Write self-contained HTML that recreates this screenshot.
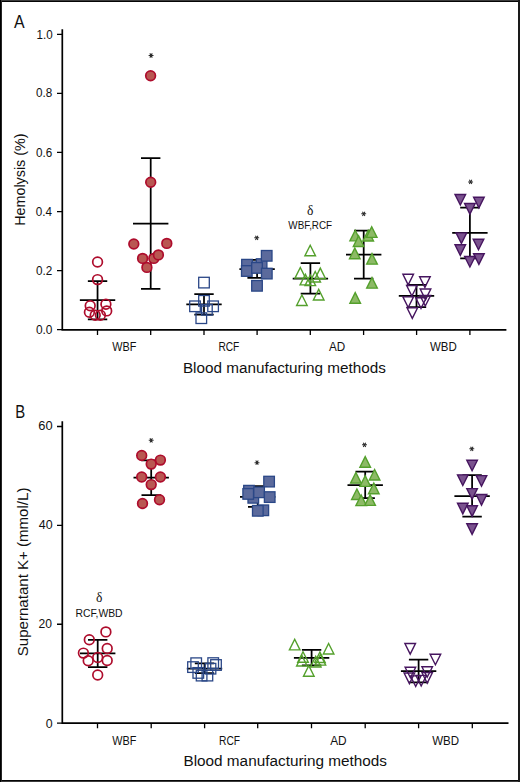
<!DOCTYPE html>
<html><head><meta charset="utf-8"><title>Figure</title><style>
html,body{margin:0;padding:0;background:#fff;}
body{width:520px;height:782px;overflow:hidden;}
svg{display:block;}
text{font-family:"Liberation Sans",sans-serif;fill:#111;}
.tk{font-size:12.4px;}
.cat{font-size:12.4px;}
.ax{font-size:15.5px;}
.pl{font-size:18.4px;}
.sig{font-size:11.4px;}
.dl{font-family:"Liberation Serif",serif;font-size:13.6px;}
</style></head>
<body><svg width="520" height="782" viewBox="0 0 520 782">
<g shape-rendering="crispEdges"><rect x="0" y="0" width="520" height="1" fill="#3c3c3c"/><rect x="0" y="1" width="520" height="1" fill="#050505"/><rect x="0" y="780" width="520" height="1" fill="#050505"/><rect x="0" y="781" width="520" height="1" fill="#3c3c3c"/><rect x="0" y="0" width="1" height="782" fill="#000"/><rect x="1" y="1" width="1" height="780" fill="#262626"/><rect x="518" y="0" width="2" height="782" fill="#1a1a1a"/></g>
<path d="M62.3 29.3V330.6M61.5 329.8H506.4" stroke="#000" stroke-width="1.7" fill="none"/>
<path d="M57 329.70H62M57 270.62H62M57 211.54H62M57 152.46H62M57 93.38H62M57 34.30H62M97.50 329.8V335M150.70 329.8V335M204.00 329.8V335M257.10 329.8V335M310.30 329.8V335M363.60 329.8V335M416.60 329.8V335M469.90 329.8V335" stroke="#000" stroke-width="1.3" fill="none"/>
<path d="M97.55 281.20V319.30M87.85 281.20h19.4M87.85 319.30h19.4M79.85 300.10h35.4" stroke="#000" stroke-width="1.75" fill="none"/>
<circle cx="97.55" cy="262.00" r="4.85" fill="none" stroke="#ae0c2c" stroke-width="1.7"/>
<circle cx="97.55" cy="279.60" r="4.85" fill="none" stroke="#ae0c2c" stroke-width="1.7"/>
<circle cx="90.20" cy="305.70" r="4.85" fill="none" stroke="#ae0c2c" stroke-width="1.7"/>
<circle cx="105.90" cy="304.20" r="4.85" fill="none" stroke="#ae0c2c" stroke-width="1.7"/>
<circle cx="89.40" cy="312.20" r="4.85" fill="none" stroke="#ae0c2c" stroke-width="1.7"/>
<circle cx="106.70" cy="310.90" r="4.85" fill="none" stroke="#ae0c2c" stroke-width="1.7"/>
<circle cx="95.20" cy="315.30" r="4.85" fill="none" stroke="#ae0c2c" stroke-width="1.7"/>
<circle cx="100.40" cy="315.30" r="4.85" fill="none" stroke="#ae0c2c" stroke-width="1.7"/>
<path d="M150.70 158.05V288.90M141.00 158.05h19.4M141.00 288.90h19.4M133.00 223.50h35.4" stroke="#000" stroke-width="1.75" fill="none"/>
<circle cx="150.60" cy="75.80" r="4.85" fill="#b95752" stroke="#ae0c2c" stroke-width="1.7"/>
<circle cx="150.70" cy="182.20" r="4.85" fill="#b95752" stroke="#ae0c2c" stroke-width="1.7"/>
<circle cx="133.80" cy="244.00" r="4.85" fill="#b95752" stroke="#ae0c2c" stroke-width="1.7"/>
<circle cx="166.80" cy="243.40" r="4.85" fill="#b95752" stroke="#ae0c2c" stroke-width="1.7"/>
<circle cx="142.60" cy="258.40" r="4.85" fill="#b95752" stroke="#ae0c2c" stroke-width="1.7"/>
<circle cx="153.80" cy="258.40" r="4.85" fill="#b95752" stroke="#ae0c2c" stroke-width="1.7"/>
<circle cx="158.40" cy="254.90" r="4.85" fill="#b95752" stroke="#ae0c2c" stroke-width="1.7"/>
<circle cx="146.90" cy="267.40" r="4.85" fill="#b95752" stroke="#ae0c2c" stroke-width="1.7"/>
<path d="M148.62 55.50L153.52 55.50M149.84 53.38L152.29 57.62M152.29 53.38L149.84 57.62" stroke="#2a2a2a" stroke-width="1.05" fill="none"/>
<path d="M204.00 294.00V314.60M194.30 294.00h19.4M194.30 314.60h19.4M186.30 304.40h35.4" stroke="#000" stroke-width="1.75" fill="none"/>
<rect x="198.70" y="277.30" width="10.6" height="10.6" fill="none" stroke="#2a4787" stroke-width="1.3"/>
<rect x="198.70" y="295.50" width="10.6" height="10.6" fill="none" stroke="#2a4787" stroke-width="1.3"/>
<rect x="189.70" y="301.00" width="10.6" height="10.6" fill="none" stroke="#2a4787" stroke-width="1.3"/>
<rect x="207.80" y="301.00" width="10.6" height="10.6" fill="none" stroke="#2a4787" stroke-width="1.3"/>
<rect x="201.60" y="304.50" width="10.6" height="10.6" fill="none" stroke="#2a4787" stroke-width="1.3"/>
<rect x="196.00" y="312.90" width="10.6" height="10.6" fill="none" stroke="#2a4787" stroke-width="1.3"/>
<path d="M257.10 259.80V277.90M247.40 259.80h19.4M247.40 277.90h19.4M239.40 269.00h35.4" stroke="#000" stroke-width="1.75" fill="none"/>
<rect x="246.70" y="262.00" width="10.6" height="10.6" fill="#5b6a9c" stroke="#2a4787" stroke-width="1.3"/>
<rect x="256.30" y="258.80" width="10.6" height="10.6" fill="#5b6a9c" stroke="#2a4787" stroke-width="1.3"/>
<rect x="241.70" y="259.40" width="10.6" height="10.6" fill="#5b6a9c" stroke="#2a4787" stroke-width="1.3"/>
<rect x="261.40" y="250.50" width="10.6" height="10.6" fill="#5b6a9c" stroke="#2a4787" stroke-width="1.3"/>
<rect x="241.50" y="265.70" width="10.6" height="10.6" fill="#5b6a9c" stroke="#2a4787" stroke-width="1.3"/>
<rect x="251.70" y="262.60" width="10.6" height="10.6" fill="#5b6a9c" stroke="#2a4787" stroke-width="1.3"/>
<rect x="261.50" y="268.30" width="10.6" height="10.6" fill="#5b6a9c" stroke="#2a4787" stroke-width="1.3"/>
<rect x="251.70" y="280.50" width="10.6" height="10.6" fill="#5b6a9c" stroke="#2a4787" stroke-width="1.3"/>
<path d="M254.25 237.80L259.15 237.80M255.47 235.68L257.93 239.92M257.93 235.68L255.47 239.92" stroke="#2a2a2a" stroke-width="1.05" fill="none"/>
<path d="M310.40 263.20V293.50M300.70 263.20h19.4M300.70 293.50h19.4M292.70 278.70h35.4" stroke="#000" stroke-width="1.75" fill="none"/>
<path d="M310.20 245.20L315.50 255.80L304.90 255.80Z" fill="none" stroke="#54a02c" stroke-width="1.4"/>
<path d="M300.30 267.50L305.60 278.10L295.00 278.10Z" fill="none" stroke="#54a02c" stroke-width="1.4"/>
<path d="M320.30 268.10L325.60 278.70L315.00 278.70Z" fill="none" stroke="#54a02c" stroke-width="1.4"/>
<path d="M305.40 274.25L310.70 284.85L300.10 284.85Z" fill="none" stroke="#54a02c" stroke-width="1.4"/>
<path d="M315.20 271.45L320.50 282.05L309.90 282.05Z" fill="none" stroke="#54a02c" stroke-width="1.4"/>
<path d="M310.30 275.00L315.60 285.60L305.00 285.60Z" fill="none" stroke="#54a02c" stroke-width="1.4"/>
<path d="M318.70 289.35L324.00 299.95L313.40 299.95Z" fill="none" stroke="#54a02c" stroke-width="1.4"/>
<path d="M301.90 294.95L307.20 305.55L296.60 305.55Z" fill="none" stroke="#54a02c" stroke-width="1.4"/>
<text x="310.1" y="214.6" class="dl" text-anchor="middle">&#948;</text>
<path d="M363.70 230.60V278.50M354.00 230.60h19.4M354.00 278.50h19.4M346.00 254.60h35.4" stroke="#000" stroke-width="1.75" fill="none"/>
<path d="M368.20 230.40L373.50 241.00L362.90 241.00Z" fill="#8dba66" stroke="#54a02c" stroke-width="1.4"/>
<path d="M371.70 226.80L377.00 237.40L366.40 237.40Z" fill="#8dba66" stroke="#54a02c" stroke-width="1.4"/>
<path d="M355.20 230.25L360.50 240.85L349.90 240.85Z" fill="#8dba66" stroke="#54a02c" stroke-width="1.4"/>
<path d="M358.60 235.90L363.90 246.50L353.30 246.50Z" fill="#8dba66" stroke="#54a02c" stroke-width="1.4"/>
<path d="M354.80 248.10L360.10 258.70L349.50 258.70Z" fill="#8dba66" stroke="#54a02c" stroke-width="1.4"/>
<path d="M372.00 253.55L377.30 264.15L366.70 264.15Z" fill="#8dba66" stroke="#54a02c" stroke-width="1.4"/>
<path d="M372.00 277.55L377.30 288.15L366.70 288.15Z" fill="#8dba66" stroke="#54a02c" stroke-width="1.4"/>
<path d="M355.20 292.60L360.50 303.20L349.90 303.20Z" fill="#8dba66" stroke="#54a02c" stroke-width="1.4"/>
<path d="M361.25 213.80L366.15 213.80M362.47 211.68L364.93 215.92M364.93 211.68L362.47 215.92" stroke="#2a2a2a" stroke-width="1.05" fill="none"/>
<path d="M416.50 284.90V307.20M406.80 284.90h19.4M406.80 307.20h19.4M398.80 295.90h35.4" stroke="#000" stroke-width="1.75" fill="none"/>
<path d="M408.20 284.90L413.50 274.30L402.90 274.30Z" fill="none" stroke="#46155f" stroke-width="1.4"/>
<path d="M424.90 287.35L430.20 276.75L419.60 276.75Z" fill="none" stroke="#46155f" stroke-width="1.4"/>
<path d="M411.90 296.05L417.20 285.45L406.60 285.45Z" fill="none" stroke="#46155f" stroke-width="1.4"/>
<path d="M425.50 299.65L430.80 289.05L420.20 289.05Z" fill="none" stroke="#46155f" stroke-width="1.4"/>
<path d="M408.20 307.45L413.50 296.85L402.90 296.85Z" fill="none" stroke="#46155f" stroke-width="1.4"/>
<path d="M425.30 306.05L430.60 295.45L420.00 295.45Z" fill="none" stroke="#46155f" stroke-width="1.4"/>
<path d="M421.00 308.35L426.30 297.75L415.70 297.75Z" fill="none" stroke="#46155f" stroke-width="1.4"/>
<path d="M412.30 318.40L417.60 307.80L407.00 307.80Z" fill="none" stroke="#46155f" stroke-width="1.4"/>
<path d="M469.90 207.50V258.30M460.20 207.50h19.4M460.20 258.30h19.4M452.20 232.90h35.4" stroke="#000" stroke-width="1.75" fill="none"/>
<path d="M460.30 205.05L465.60 194.45L455.00 194.45Z" fill="#7a528e" stroke="#46155f" stroke-width="1.4"/>
<path d="M478.90 207.90L484.20 197.30L473.60 197.30Z" fill="#7a528e" stroke="#46155f" stroke-width="1.4"/>
<path d="M469.90 214.10L475.20 203.50L464.60 203.50Z" fill="#7a528e" stroke="#46155f" stroke-width="1.4"/>
<path d="M461.40 243.50L466.70 232.90L456.10 232.90Z" fill="#7a528e" stroke="#46155f" stroke-width="1.4"/>
<path d="M478.50 249.80L483.80 239.20L473.20 239.20Z" fill="#7a528e" stroke="#46155f" stroke-width="1.4"/>
<path d="M460.30 255.40L465.60 244.80L455.00 244.80Z" fill="#7a528e" stroke="#46155f" stroke-width="1.4"/>
<path d="M478.90 264.40L484.20 253.80L473.60 253.80Z" fill="#7a528e" stroke="#46155f" stroke-width="1.4"/>
<path d="M469.90 267.05L475.20 256.45L464.60 256.45Z" fill="#7a528e" stroke="#46155f" stroke-width="1.4"/>
<path d="M468.15 181.90L473.05 181.90M469.38 179.78L471.83 184.02M471.83 179.78L469.38 184.02" stroke="#2a2a2a" stroke-width="1.05" fill="none"/>
<path d="M62.3 421.2V723.9M61.5 723.1H508.5" stroke="#000" stroke-width="1.7" fill="none"/>
<path d="M57 723.10H62M57 624.23H62M57 525.36H62M57 426.49H62M97.50 723.1V728.3M151.20 723.1V728.3M204.60 723.1V728.3M257.70 723.1V728.3M311.50 723.1V728.3M365.20 723.1V728.3M418.60 723.1V728.3M472.30 723.1V728.3" stroke="#000" stroke-width="1.3" fill="none"/>
<path d="M97.70 639.90V667.00M88.00 639.90h19.4M88.00 667.00h19.4M80.00 653.30h35.4" stroke="#000" stroke-width="1.75" fill="none"/>
<circle cx="105.90" cy="631.90" r="4.85" fill="none" stroke="#ae0c2c" stroke-width="1.7"/>
<circle cx="89.30" cy="639.70" r="4.85" fill="none" stroke="#ae0c2c" stroke-width="1.7"/>
<circle cx="107.20" cy="648.50" r="4.85" fill="none" stroke="#ae0c2c" stroke-width="1.7"/>
<circle cx="83.40" cy="653.10" r="4.85" fill="none" stroke="#ae0c2c" stroke-width="1.7"/>
<circle cx="88.20" cy="660.70" r="4.85" fill="none" stroke="#ae0c2c" stroke-width="1.7"/>
<circle cx="97.70" cy="657.50" r="4.85" fill="none" stroke="#ae0c2c" stroke-width="1.7"/>
<circle cx="107.20" cy="660.50" r="4.85" fill="none" stroke="#ae0c2c" stroke-width="1.7"/>
<circle cx="97.70" cy="675.00" r="4.85" fill="none" stroke="#ae0c2c" stroke-width="1.7"/>
<text x="99.2" y="601.9" class="dl" text-anchor="middle">&#948;</text>
<path d="M151.20 460.40V495.00M141.50 460.40h19.4M141.50 495.00h19.4M133.50 477.70h35.4" stroke="#000" stroke-width="1.75" fill="none"/>
<circle cx="141.70" cy="455.50" r="4.85" fill="#b95752" stroke="#ae0c2c" stroke-width="1.7"/>
<circle cx="160.40" cy="460.10" r="4.85" fill="#b95752" stroke="#ae0c2c" stroke-width="1.7"/>
<circle cx="151.20" cy="464.10" r="4.85" fill="#b95752" stroke="#ae0c2c" stroke-width="1.7"/>
<circle cx="141.70" cy="477.00" r="4.85" fill="#b95752" stroke="#ae0c2c" stroke-width="1.7"/>
<circle cx="160.40" cy="477.00" r="4.85" fill="#b95752" stroke="#ae0c2c" stroke-width="1.7"/>
<circle cx="151.20" cy="484.60" r="4.85" fill="#b95752" stroke="#ae0c2c" stroke-width="1.7"/>
<circle cx="159.50" cy="499.80" r="4.85" fill="#b95752" stroke="#ae0c2c" stroke-width="1.7"/>
<circle cx="142.50" cy="503.50" r="4.85" fill="#b95752" stroke="#ae0c2c" stroke-width="1.7"/>
<path d="M148.75 440.30L153.65 440.30M149.97 438.18L152.42 442.42M152.42 438.18L149.97 442.42" stroke="#2a2a2a" stroke-width="1.05" fill="none"/>
<path d="M204.50 663.40V673.20M194.80 663.40h19.4M194.80 673.20h19.4M186.80 668.60h35.4" stroke="#000" stroke-width="1.75" fill="none"/>
<rect x="190.90" y="657.90" width="10.6" height="10.6" fill="none" stroke="#2a4787" stroke-width="1.3"/>
<rect x="207.90" y="657.80" width="10.6" height="10.6" fill="none" stroke="#2a4787" stroke-width="1.3"/>
<rect x="187.70" y="661.80" width="10.6" height="10.6" fill="none" stroke="#2a4787" stroke-width="1.3"/>
<rect x="210.70" y="659.70" width="10.6" height="10.6" fill="none" stroke="#2a4787" stroke-width="1.3"/>
<rect x="193.00" y="667.60" width="10.6" height="10.6" fill="none" stroke="#2a4787" stroke-width="1.3"/>
<rect x="196.30" y="670.30" width="10.6" height="10.6" fill="none" stroke="#2a4787" stroke-width="1.3"/>
<rect x="202.10" y="670.30" width="10.6" height="10.6" fill="none" stroke="#2a4787" stroke-width="1.3"/>
<rect x="205.20" y="663.40" width="10.6" height="10.6" fill="none" stroke="#2a4787" stroke-width="1.3"/>
<path d="M257.70 486.20V506.80M248.00 486.20h19.4M248.00 506.80h19.4M240.00 496.90h35.4" stroke="#000" stroke-width="1.75" fill="none"/>
<rect x="248.00" y="492.50" width="10.6" height="10.6" fill="#5b6a9c" stroke="#2a4787" stroke-width="1.3"/>
<rect x="263.80" y="476.30" width="10.6" height="10.6" fill="#5b6a9c" stroke="#2a4787" stroke-width="1.3"/>
<rect x="243.70" y="485.40" width="10.6" height="10.6" fill="#5b6a9c" stroke="#2a4787" stroke-width="1.3"/>
<rect x="242.90" y="488.60" width="10.6" height="10.6" fill="#5b6a9c" stroke="#2a4787" stroke-width="1.3"/>
<rect x="253.80" y="487.00" width="10.6" height="10.6" fill="#5b6a9c" stroke="#2a4787" stroke-width="1.3"/>
<rect x="264.40" y="491.80" width="10.6" height="10.6" fill="#5b6a9c" stroke="#2a4787" stroke-width="1.3"/>
<rect x="258.00" y="505.00" width="10.6" height="10.6" fill="#5b6a9c" stroke="#2a4787" stroke-width="1.3"/>
<rect x="252.50" y="505.50" width="10.6" height="10.6" fill="#5b6a9c" stroke="#2a4787" stroke-width="1.3"/>
<path d="M254.55 462.70L259.45 462.70M255.78 460.58L258.23 464.82M258.23 460.58L255.78 464.82" stroke="#2a2a2a" stroke-width="1.05" fill="none"/>
<path d="M311.60 649.80V665.40M301.90 649.80h19.4M301.90 665.40h19.4M293.90 657.80h35.4" stroke="#000" stroke-width="1.75" fill="none"/>
<path d="M294.70 639.25L300.00 649.85L289.40 649.85Z" fill="none" stroke="#54a02c" stroke-width="1.4"/>
<path d="M328.60 643.45L333.90 654.05L323.30 654.05Z" fill="none" stroke="#54a02c" stroke-width="1.4"/>
<path d="M303.00 651.70L308.30 662.30L297.70 662.30Z" fill="none" stroke="#54a02c" stroke-width="1.4"/>
<path d="M301.90 655.40L307.20 666.00L296.60 666.00Z" fill="none" stroke="#54a02c" stroke-width="1.4"/>
<path d="M319.90 651.95L325.20 662.55L314.60 662.55Z" fill="none" stroke="#54a02c" stroke-width="1.4"/>
<path d="M320.40 654.55L325.70 665.15L315.10 665.15Z" fill="none" stroke="#54a02c" stroke-width="1.4"/>
<path d="M315.70 656.40L321.00 667.00L310.40 667.00Z" fill="none" stroke="#54a02c" stroke-width="1.4"/>
<path d="M308.80 665.65L314.10 676.25L303.50 676.25Z" fill="none" stroke="#54a02c" stroke-width="1.4"/>
<path d="M365.20 471.50V498.20M355.50 471.50h19.4M355.50 498.20h19.4M347.50 485.00h35.4" stroke="#000" stroke-width="1.75" fill="none"/>
<path d="M365.20 456.65L370.50 467.25L359.90 467.25Z" fill="#8dba66" stroke="#54a02c" stroke-width="1.4"/>
<path d="M374.60 469.45L379.90 480.05L369.30 480.05Z" fill="#8dba66" stroke="#54a02c" stroke-width="1.4"/>
<path d="M355.90 472.55L361.20 483.15L350.60 483.15Z" fill="#8dba66" stroke="#54a02c" stroke-width="1.4"/>
<path d="M365.20 475.75L370.50 486.35L359.90 486.35Z" fill="#8dba66" stroke="#54a02c" stroke-width="1.4"/>
<path d="M373.80 483.15L379.10 493.75L368.50 493.75Z" fill="#8dba66" stroke="#54a02c" stroke-width="1.4"/>
<path d="M356.90 488.95L362.20 499.55L351.60 499.55Z" fill="#8dba66" stroke="#54a02c" stroke-width="1.4"/>
<path d="M361.20 495.00L366.50 505.60L355.90 505.60Z" fill="#8dba66" stroke="#54a02c" stroke-width="1.4"/>
<path d="M370.10 494.75L375.40 505.35L364.80 505.35Z" fill="#8dba66" stroke="#54a02c" stroke-width="1.4"/>
<path d="M362.05 444.80L366.95 444.80M363.27 442.68L365.73 446.92M365.73 442.68L363.27 446.92" stroke="#2a2a2a" stroke-width="1.05" fill="none"/>
<path d="M418.60 659.50V682.30M408.90 659.50h19.4M408.90 682.30h19.4M400.90 671.10h35.4" stroke="#000" stroke-width="1.75" fill="none"/>
<path d="M410.20 654.15L415.50 643.55L404.90 643.55Z" fill="none" stroke="#46155f" stroke-width="1.4"/>
<path d="M435.40 664.80L440.70 654.20L430.10 654.20Z" fill="none" stroke="#46155f" stroke-width="1.4"/>
<path d="M410.40 677.80L415.70 667.20L405.10 667.20Z" fill="none" stroke="#46155f" stroke-width="1.4"/>
<path d="M427.20 677.30L432.50 666.70L421.90 666.70Z" fill="none" stroke="#46155f" stroke-width="1.4"/>
<path d="M409.40 683.60L414.70 673.00L404.10 673.00Z" fill="none" stroke="#46155f" stroke-width="1.4"/>
<path d="M427.20 683.10L432.50 672.50L421.90 672.50Z" fill="none" stroke="#46155f" stroke-width="1.4"/>
<path d="M415.70 686.45L421.00 675.85L410.40 675.85Z" fill="none" stroke="#46155f" stroke-width="1.4"/>
<path d="M421.20 686.00L426.50 675.40L415.90 675.40Z" fill="none" stroke="#46155f" stroke-width="1.4"/>
<path d="M472.10 475.20V516.60M462.40 475.20h19.4M462.40 516.60h19.4M454.40 496.00h35.4" stroke="#000" stroke-width="1.75" fill="none"/>
<path d="M472.10 470.80L477.40 460.20L466.80 460.20Z" fill="#7a528e" stroke="#46155f" stroke-width="1.4"/>
<path d="M462.80 485.45L468.10 474.85L457.50 474.85Z" fill="#7a528e" stroke="#46155f" stroke-width="1.4"/>
<path d="M481.50 486.20L486.80 475.60L476.20 475.60Z" fill="#7a528e" stroke="#46155f" stroke-width="1.4"/>
<path d="M472.10 499.20L477.40 488.60L466.80 488.60Z" fill="#7a528e" stroke="#46155f" stroke-width="1.4"/>
<path d="M481.50 505.15L486.80 494.55L476.20 494.55Z" fill="#7a528e" stroke="#46155f" stroke-width="1.4"/>
<path d="M462.80 513.90L468.10 503.30L457.50 503.30Z" fill="#7a528e" stroke="#46155f" stroke-width="1.4"/>
<path d="M472.10 516.40L477.40 505.80L466.80 505.80Z" fill="#7a528e" stroke="#46155f" stroke-width="1.4"/>
<path d="M472.10 534.40L477.40 523.80L466.80 523.80Z" fill="#7a528e" stroke="#46155f" stroke-width="1.4"/>
<path d="M469.35 448.80L474.25 448.80M470.57 446.68L473.03 450.92M473.03 446.68L470.57 450.92" stroke="#2a2a2a" stroke-width="1.05" fill="none"/>
<text x="14.01" y="28.00" class="pl" textLength="10.63" lengthAdjust="spacingAndGlyphs">A</text>
<text x="15.31" y="418.40" class="pl" textLength="9.94" lengthAdjust="spacingAndGlyphs">B</text>
<text x="36.52" y="38.60" class="tk" textLength="16.14" lengthAdjust="spacingAndGlyphs">1.0</text>
<text x="35.91" y="97.30" class="tk" textLength="16.28" lengthAdjust="spacingAndGlyphs">0.8</text>
<text x="35.93" y="156.70" class="tk" textLength="16.27" lengthAdjust="spacingAndGlyphs">0.6</text>
<text x="35.84" y="215.80" class="tk" textLength="16.25" lengthAdjust="spacingAndGlyphs">0.4</text>
<text x="35.91" y="274.90" class="tk" textLength="16.30" lengthAdjust="spacingAndGlyphs">0.2</text>
<text x="35.89" y="334.00" class="tk" textLength="16.58" lengthAdjust="spacingAndGlyphs">0.0</text>
<text x="38.26" y="430.20" class="tk" textLength="14.34" lengthAdjust="spacingAndGlyphs">60</text>
<text x="38.77" y="529.20" class="tk" textLength="13.85" lengthAdjust="spacingAndGlyphs">40</text>
<text x="38.61" y="628.20" class="tk" textLength="13.49" lengthAdjust="spacingAndGlyphs">20</text>
<text x="45.67" y="727.50" class="tk" textLength="6.89" lengthAdjust="spacingAndGlyphs">0</text>
<text x="112.34" y="351.00" class="cat" textLength="24.11" lengthAdjust="spacingAndGlyphs">WBF</text>
<text x="218.40" y="351.10" class="cat" textLength="20.95" lengthAdjust="spacingAndGlyphs">RCF</text>
<text x="329.09" y="351.00" class="cat" textLength="16.23" lengthAdjust="spacingAndGlyphs">AD</text>
<text x="429.96" y="351.00" class="cat" textLength="26.81" lengthAdjust="spacingAndGlyphs">WBD</text>
<text x="112.34" y="744.60" class="cat" textLength="24.11" lengthAdjust="spacingAndGlyphs">WBF</text>
<text x="219.06" y="744.80" class="cat" textLength="21.08" lengthAdjust="spacingAndGlyphs">RCF</text>
<text x="330.20" y="744.60" class="cat" textLength="16.46" lengthAdjust="spacingAndGlyphs">AD</text>
<text x="432.13" y="744.60" class="cat" textLength="26.91" lengthAdjust="spacingAndGlyphs">WBD</text>
<text x="182.95" y="372.60" class="ax" textLength="202.86" lengthAdjust="spacingAndGlyphs">Blood manufacturing methods</text>
<text x="183.42" y="765.80" class="ax" textLength="203.59" lengthAdjust="spacingAndGlyphs">Blood manufacturing methods</text>
<text x="288.34" y="228.70" class="sig" textLength="43.79" lengthAdjust="spacingAndGlyphs">WBF,RCF</text>
<text x="75.45" y="616.50" class="sig" textLength="47.16" lengthAdjust="spacingAndGlyphs">RCF,WBD</text>
<text transform="translate(24.70 225.81) rotate(-90)" class="ax" textLength="92.32" lengthAdjust="spacingAndGlyphs">Hemolysis (%)</text>
<text transform="translate(28.40 656.23) rotate(-90)" class="ax" textLength="168.65" lengthAdjust="spacingAndGlyphs">Supernatant K+ (mmol/L)</text>
</svg></body></html>
